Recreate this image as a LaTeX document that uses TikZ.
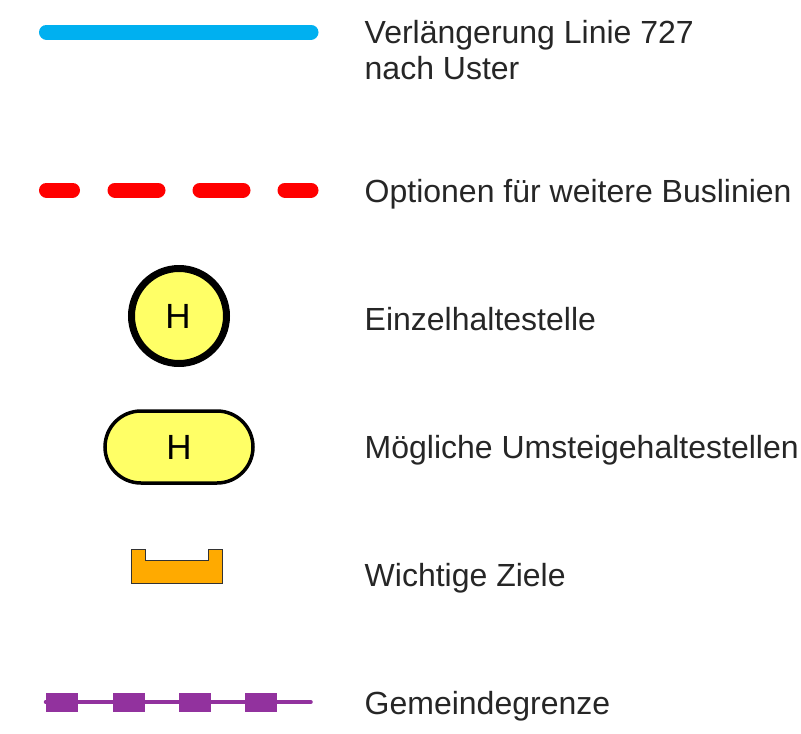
\documentclass[tikz,border=0pt]{standalone}
\usepackage{fontspec}
\setmainfont{Liberation Sans}
\definecolor{txt}{HTML}{262626}
\definecolor{hyellow}{HTML}{FFFF66}
\definecolor{lineblue}{HTML}{00B0F0}
\definecolor{goal}{HTML}{FFAA00}
\definecolor{border}{HTML}{92329E}
\tikzset{x=1pt,y=-1pt,
 legend/.style={anchor=base west,inner sep=0pt,text=txt,font=\fontsize{32}{38}\selectfont,align=left},
 letter/.style={font=\fontsize{35}{40}\selectfont,text=black,inner sep=0pt}}
\begin{document}
\begin{tikzpicture}
\useasboundingbox (0,0) rectangle (801,734);
\coordinate (a1) at (46.5,32); \coordinate (a2) at (311,32);
\draw[lineblue,line width=15,line cap=round] (a1) -- (a2);
\coordinate (b1) at (46.5,190); \coordinate (b2) at (311,190);
\draw[red,line width=15,line cap=round,dash pattern=on 26 off 42.5 on 43 off 42 on 43 off 42 on 27] (b1) -- (b2);
\node[circle,draw=black,line width=7,fill=hyellow,minimum size=95,inner sep=0pt] (h1) at (179,316) {};
\node[letter] at (178,316) {H};
\draw[black,line width=3.5,fill=hyellow,rounded corners=36] (105,411) rectangle (253,483);
\node[letter] (h2) at (179,447) {H};
\draw[black!80,line width=1,fill=goal] (131,549.5) -- (145,549.5) -- (145,560) -- (208,560) -- (208,549.5) -- (222,549.5) -- (222,583) -- (131,583) -- cycle;
\coordinate (g1) at (45.5,702); \coordinate (g2) at (311,702);
\draw[border,line width=3.5,line cap=round] (g1) -- (g2);
\foreach \x in {46,113,179,245} \fill[border] (\x,693) rectangle ++(32,19);
\node[legend] (t1) at (364.5,43) {Verlängerung Linie 727};
\node[legend] (t1b) at (364.5,79) {nach Uster};
\node[legend] (t2) at (364.5,202) {Optionen für weitere Buslinien};
\node[legend] (t3) at (364.5,330) {Einzelhaltestelle};
\node[legend] (t4) at (364.5,458) {Mögliche Umsteigehaltestellen};
\node[legend] (t5) at (364.5,586) {Wichtige Ziele};
\node[legend] (t6) at (364.5,714) {Gemeindegrenze};
\end{tikzpicture}
\end{document}
